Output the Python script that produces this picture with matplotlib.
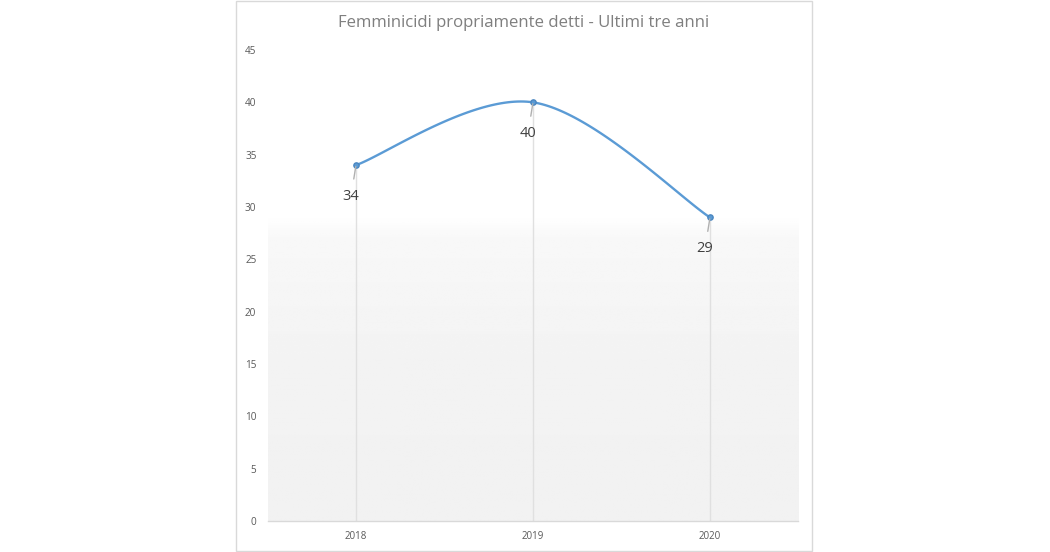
import numpy as np
import matplotlib
matplotlib.use("Agg")
import matplotlib.pyplot as plt
from matplotlib.patches import Rectangle
from matplotlib.colors import LinearSegmentedColormap

title = "Femminicidi propriamente detti - Ultimi tre anni"
years = ["2018", "2019", "2020"]
values = [34, 40, 29]
yticks = [0, 5, 10, 15, 20, 25, 30, 35, 40, 45]

W, H = 1050, 552
fig = plt.figure(figsize=(W / 100, H / 100), dpi=100)
fig.patch.set_facecolor("white")

# chart frame
fig.patches.append(Rectangle((236 / W, 1 / H), (812 - 236) / W, (551 - 1) / H,
                             transform=fig.transFigure, fill=False,
                             edgecolor="#d9d9d9", linewidth=1))

left, right, top, bottom = 267.5, 798.5, 50, 521
ax = fig.add_axes([left / W, (H - bottom) / H, (right - left) / W, (bottom - top) / H])
ax.set_xlim(-0.5, len(years) - 0.5)
ax.set_ylim(0, 45)

# background gradient
grad_y = np.linspace(0, 45, 200)
shade = np.interp(grad_y, [0, 15, 27, 29, 45], [0.946, 0.952, 0.972, 1.0, 1.0])
img = np.repeat(shade[:, None], 2, axis=1)
cmap = LinearSegmentedColormap.from_list("g", ["black", "white"])
ax.imshow(img, extent=[-0.5, len(years) - 0.5, 0, 45], origin="lower", aspect="auto",
          cmap=cmap, vmin=0, vmax=1, zorder=0, interpolation="bilinear")

for s in ["top", "left", "right"]:
    ax.spines[s].set_visible(False)
ax.spines["bottom"].set_color("#d9d9d9")
ax.spines["bottom"].set_linewidth(1)

x = np.arange(len(years))
# drop lines
ax.vlines(x, 0, values, colors="#e0e0e0", linewidth=1.0, zorder=1)

# smoothed curve (Catmull-Rom style bezier)
pts = np.column_stack([x, values]).astype(float)
ext = np.vstack([pts[0], pts, pts[-1]])
curve = []
t = np.linspace(0, 1, 60)
for i in range(len(pts) - 1):
    p0, p1, p2, p3 = ext[i], ext[i + 1], ext[i + 2], ext[i + 3]
    c1 = p1 + (p2 - p0) / 6
    c2 = p2 - (p3 - p1) / 6
    seg = ((1 - t) ** 3)[:, None] * p1 + (3 * (1 - t) ** 2 * t)[:, None] * c1 + \
          (3 * (1 - t) * t ** 2)[:, None] * c2 + (t ** 3)[:, None] * p2
    curve.append(seg)
curve = np.vstack(curve)
ax.plot(curve[:, 0], curve[:, 1], color="#5b9bd5", linewidth=1.7, zorder=3,
        solid_capstyle="round")
ax.plot(x, values, linestyle="none", marker="o", markersize=3.8,
        color="#5b9bd5", markeredgecolor="#4a86c0", zorder=4)

# data labels with leader lines
for xi, v in zip(x, values):
    ax.annotate(str(v), xy=(xi, v), xytext=(-5, -31), textcoords="offset pixels",
                ha="center", va="center", fontsize=10.5, color="#404040",
                family="Open Sans",
                arrowprops=dict(arrowstyle="-", color="#b0b0b0", lw=1,
                                shrinkA=5, shrinkB=1), zorder=5)

ax.set_xticks(x)
ax.set_xticklabels(years)
ax.set_yticks(yticks)
ax.tick_params(axis="x", length=0, pad=7.5, labelsize=7, labelcolor="#595959")
ax.tick_params(axis="y", length=0, pad=8, labelsize=7.2, labelcolor="#595959")
for lab in ax.get_xticklabels() + ax.get_yticklabels():
    lab.set_family("Open Sans")

fig.text((236 + 812) / 2 / W, 1 - 23 / H, title, ha="center", va="center",
         fontsize=12.1, color="#7f7f7f", family="Open Sans")

fig.savefig("out.png", dpi=100, facecolor="white")
